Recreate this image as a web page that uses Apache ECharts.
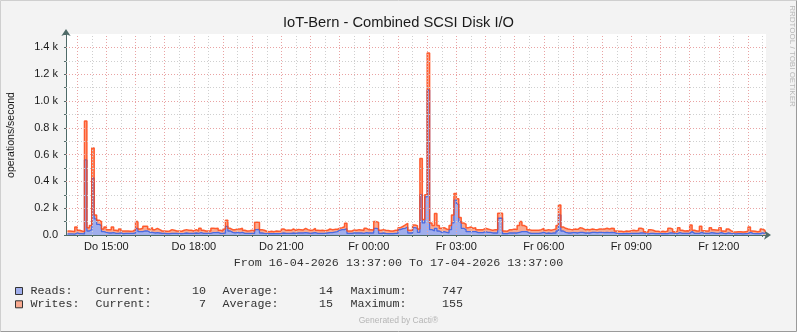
<!DOCTYPE html>
<html><head><meta charset="utf-8">
<script src="https://cdn.jsdelivr.net/npm/echarts@6/dist/echarts.min.js"></script>
<style>html,body{margin:0;padding:0;background:#f3f3f3}#c{width:797px;height:332px}</style>
</head><body><div id="c"></div>
<script>
// time axis in minutes since 16-04-2026 00:00
const startMin = 817;   // 16-04 13:37
const endMin = 2257;    // 17-04 13:37
const firstPoint = 820; // 13:40
const stepMin = 5;

const reads = [
8,8,7,15,10,10,8,560,30,40,
425,120,80,70,25,20,15,15,18,12,
12,15,10,12,12,12,12,15,50,25,
25,30,30,20,20,15,18,15,12,12,
10,10,12,12,12,10,10,12,15,12,
12,12,15,12,18,12,12,12,12,18,
18,20,12,12,15,65,30,20,15,20,
15,20,12,12,12,12,12,40,42,15,
12,10,10,10,10,10,10,12,15,12,
12,12,15,12,15,15,15,18,15,12,
15,18,12,12,12,12,15,18,18,22,
25,35,40,40,47,12,12,15,15,15,
15,12,18,15,15,15,50,45,12,15,
12,10,10,10,12,12,40,48,50,60,
15,15,55,50,20,300,90,285,1082,40,
30,50,30,20,25,20,15,40,90,260,
230,100,50,40,25,25,25,25,18,18,
18,25,20,20,15,15,15,125,125,10,
10,15,15,15,15,20,25,25,25,15,
12,12,12,12,15,20,12,15,12,15,
15,30,150,30,20,15,15,18,18,15,
20,20,15,15,15,20,20,18,20,20,
18,20,18,20,18,12,10,10,10,12,
10,12,12,12,12,15,15,10,8,12,
12,10,10,10,10,10,10,15,15,10,
10,18,12,12,12,12,25,12,12,12,
20,12,12,12,18,15,12,12,18,12,
10,15,12,10,8,10,10,8,10,10,
20,12,10,10,10,15,12,10
];
const writes = [
22,20,19,45,25,20,17,290,25,30,
225,30,30,30,20,40,25,25,42,23,
18,30,20,18,18,16,18,25,50,20,
25,35,35,25,35,25,32,25,18,18,
18,20,28,23,18,20,18,23,25,23,
23,18,25,18,32,23,18,18,18,32,
30,30,23,18,30,45,20,20,25,25,
30,30,23,18,20,23,18,55,53,25,
23,18,15,18,15,20,18,18,30,23,
26,23,30,23,27,25,23,32,25,23,
23,32,23,21,23,20,20,27,22,20,
17,15,15,22,40,18,18,23,20,25,
23,23,32,25,25,23,50,50,23,25,
23,23,20,20,23,23,15,17,25,27,
20,23,20,20,25,270,25,15,276,50,
40,110,40,30,30,25,25,30,60,50,
40,30,40,40,30,35,25,30,22,22,
22,25,25,20,20,25,25,37,37,20,
18,25,25,30,25,50,75,45,35,25,
23,23,23,23,25,30,23,25,23,25,
30,40,74,30,30,30,27,22,27,27,
35,30,25,27,25,25,22,22,25,25,
27,30,27,30,30,18,18,18,15,18,
18,20,23,20,23,35,30,15,14,28,
23,18,18,15,18,15,20,35,30,15,
18,37,23,18,20,18,50,23,18,18,
45,20,18,18,37,25,26,23,37,18,
18,30,20,15,14,15,15,14,15,18,
40,18,18,15,18,30,23,15
];
const xLabelValues = [900,1080,1260,1440,1620,1800,1980,2160];
const yMax = 1500;
const legendRows = [
  {name:'Reads:',  current:'10', average:'14', maximum:'747'},
  {name:'Writes:', current:'7',  average:'15', maximum:'155'}
];

const C = {
  bg:'#f3f3f3', plot:'#ffffff', axis:'#4f6b68',
  major:'#e9a3a3', minor:'#cfcfcf',
  readsArea:'#a0aeec', readsLine:'#4a6be2',
  writesArea:'#f9aa90', writesLine:'rgba(255,70,20,0.85)'
};

const vGrid = [];
for (let v = Math.ceil(startMin/30)*30; v < endMin; v += 30) vGrid.push(v);
const hGrid = [];
for (let v = 100; v < yMax; v += 100) hGrid.push(v);

const pad = n => (n < 10 ? '0' : '') + n;
const toPts = arr => arr.map((v, i) => [firstPoint + i*stepMin, v]);
// writes are drawn stacked on top of reads (RRD STACK)
const stackedWrites = writes.map((w, i) => w + reads[i]);

const chart = echarts.init(document.getElementById('c'), null, {renderer:'canvas'});
const mono = '"Liberation Mono","DejaVu Sans Mono",monospace';
const sans = '"Liberation Sans",Arial,sans-serif';

const graphics = [
  {type:'polyline', shape:{points:[[0.5,331.5],[0.5,0.5],[796.5,0.5]]}, style:{stroke:'#cfcfcf', fill:null, lineWidth:1}},
  {type:'polyline', shape:{points:[[0.5,331.5],[796.5,331.5],[796.5,0.5]]}, style:{stroke:'#9a9a9a', fill:null, lineWidth:1}},
  {type:'text', x:398.5, y:22.5, style:{text:'IoT-Bern - Combined SCSI Disk I/O', font:'14.7px '+sans, fill:'#1a1a1a', textAlign:'center', textVerticalAlign:'middle'}},
  {type:'text', x:11.5, y:135, rotation:Math.PI/2, style:{text:'operations/second', font:'10.5px '+sans, fill:'#1a1a1a', textAlign:'center', textVerticalAlign:'middle'}},
  {type:'text', x:792, y:56, rotation:-Math.PI/2, style:{text:'RRDTOOL / TOBI OETIKER', font:'8px '+sans, fill:'#b8b8b8', textAlign:'center', textVerticalAlign:'middle'}},
  {type:'text', x:398.5, y:263, style:{text:'From 16-04-2026 13:37:00 To 17-04-2026 13:37:00', font:'11.7px '+mono, fill:'#333', textAlign:'center', textVerticalAlign:'middle'}},
  {type:'text', x:398.5, y:321, style:{text:'Generated by Cacti®', font:'8.5px '+sans, fill:'#b5b5b5', textAlign:'center', textVerticalAlign:'middle'}}
];
const rowY = [291, 304.3];
const swatch = [C.readsArea, C.writesArea];
legendRows.forEach((r, i) => {
  const y = rowY[i];
  graphics.push({type:'rect', shape:{x:15.5, y:y-3.5, width:7, height:7}, style:{fill:swatch[i], stroke:'#333', lineWidth:1}});
  const t = (x, s, align) => graphics.push({type:'text', x:x, y:y, style:{text:s, font:'11.7px '+mono, fill:'#333', textAlign:align||'left', textVerticalAlign:'middle'}});
  t(30.5, r.name); t(95.5, 'Current:'); t(206, r.current, 'right');
  t(222.5, 'Average:'); t(333, r.average, 'right');
  t(350.5, 'Maximum:'); t(463, r.maximum, 'right');
});

const gridLine = (key, v, major) => ({[key]: v, lineStyle:{color: major ? C.major : C.minor, type:[1,2], width:1}});

chart.setOption({
  animation:false,
  backgroundColor:C.bg,
  textStyle:{fontFamily:sans},
  grid:{left:66, right:31, top:34, bottom:97, show:true, backgroundColor:C.plot, borderWidth:0},
  xAxis:{
    type:'value', min:startMin, max:endMin,
    axisLine:{show:true, lineStyle:{color:C.axis, width:1}, symbol:['none','arrow'], symbolSize:[7,7], symbolOffset:[0,5]},
    axisTick:{show:true, customValues:vGrid, length:2, lineStyle:{color:C.axis}},
    splitLine:{show:false},
    axisLabel:{customValues:xLabelValues, margin:6, fontSize:11, color:'#1a1a1a', fontFamily:sans,
      formatter:v => (v < 1440 ? 'Do ' : 'Fr ') + pad(Math.floor((v % 1440)/60)) + ':' + pad(v % 60)}
  },
  yAxis:{
    type:'value', min:0, max:yMax, interval:100,
    axisLine:{show:true, lineStyle:{color:C.axis, width:1}, symbol:['none','arrow'], symbolSize:[7,7], symbolOffset:[0,5]},
    axisTick:{show:true, length:2, lineStyle:{color:C.axis}},
    splitLine:{show:false},
    axisLabel:{margin:8, fontSize:11, color:'#1a1a1a', fontFamily:sans,
      formatter:v => v % 200 !== 0 ? '' : (v === 0 ? '0.0' : (v/1000).toFixed(1) + ' k')}
  },
  graphic:graphics,
  series:[
    {type:'line', data:[], z:1, silent:true,
      markLine:{silent:true, symbol:'none', label:{show:false}, animation:false,
        data: vGrid.map(v => gridLine('xAxis', v, v % 60 === 0)).concat(hGrid.map(v => gridLine('yAxis', v, v % 200 === 0)))}},
    {type:'line', name:'Writes', data:toPts(stackedWrites), step:'end', symbol:'none', z:2,
      lineStyle:{width:0, opacity:0}, areaStyle:{color:C.writesArea, opacity:1}},
    {type:'line', name:'Reads', data:toPts(reads), step:'end', symbol:'none', z:3,
      lineStyle:{color:C.readsLine, width:1.3}, areaStyle:{color:C.readsArea, opacity:1}},
    {type:'line', name:'Writes line', data:toPts(stackedWrites), step:'end', symbol:'none', z:4,
      lineStyle:{color:C.writesLine, width:1.5}}
  ]
});
</script></body></html>
